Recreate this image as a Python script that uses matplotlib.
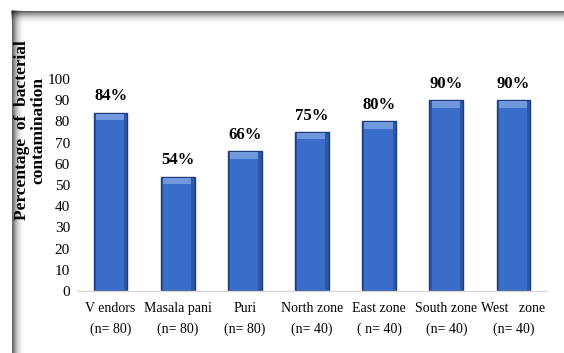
import numpy as np
import matplotlib.pyplot as plt
from matplotlib.lines import Line2D

categories = ["V endors\n(n= 80)", "Masala pani\n(n= 80)", "Puri\n(n= 80)",
              "North zone\n(n= 40)", "East zone\n( n= 40)", "South zone\n(n= 40)",
              "West   zone\n(n= 40)"]
values = [84, 54, 66, 75, 80, 90, 90]
labels = ["84%", "54%", "66%", "75%", "80%", "90%", "90%"]
yticks = [0, 10, 20, 30, 40, 50, 60, 70, 80, 90, 100]

plt.rcParams['font.family'] = ['Liberation Serif', 'DejaVu Serif']

fig = plt.figure(figsize=(5.64, 3.53), dpi=100)
fig.patch.set_facecolor('white')

# soft inner shadow of the frame (top and left edges)
n = 14
for i in range(n):
    a = 0.6 * (1 - i / n) ** 2.5
    fig.add_artist(Line2D([11 / 564, 1], [1 - (10.5 + i) / 353] * 2,
                          transform=fig.transFigure, color='black', alpha=a, lw=0.75))
    fig.add_artist(Line2D([(11.5 + i) / 564] * 2, [0, 1 - 10 / 353],
                          transform=fig.transFigure, color='black', alpha=a, lw=0.75))

ax = fig.add_axes([77 / 564, 1 - 291 / 353, 470 / 564, 212 / 353])
x = np.arange(len(values))
ax.bar(x, values, width=0.5, color='#2c58a8', edgecolor='#1d3a7a', linewidth=1.0, zorder=2)
# lighter bevel on the top and centre of each bar
ax.bar(x - 0.01, [3] * len(values), bottom=np.array(values) - 3.5, width=0.42,
       color='#6f98dd', linewidth=0, zorder=3)
ax.bar(x - 0.01, np.array(values) - 4, width=0.42, bottom=0.5,
       color='#3a6dca', linewidth=0, zorder=3)

for xi, v, lab in zip(x, values, labels):
    ax.text(xi, v + 4, lab, ha='center', va='bottom', fontsize=12, fontweight='bold')

ax.set_xlim(-0.5, len(values) - 0.5)
ax.set_ylim(0, 100)
ax.set_yticks(yticks)
ax.set_yticklabels([str(t) for t in yticks], fontsize=11)
ax.set_xticks(x)
ax.set_xticklabels(categories, fontsize=10, linespacing=1.7)
ax.tick_params(axis='both', length=0, pad=8)
ax.tick_params(axis='y', pad=5)
for s in ['top', 'right', 'left']:
    ax.spines[s].set_visible(False)
ax.spines['bottom'].set_color('#d9d9d9')
ax.spines['bottom'].set_linewidth(1)

fig.text(30 / 564, 1 - 130 / 353, "Percentage  of  bacterial\ncontamination", rotation=90,
         ha='center', va='center', fontsize=12.5, fontweight='bold', linespacing=1.05)

fig.savefig('out.png', dpi=100)
